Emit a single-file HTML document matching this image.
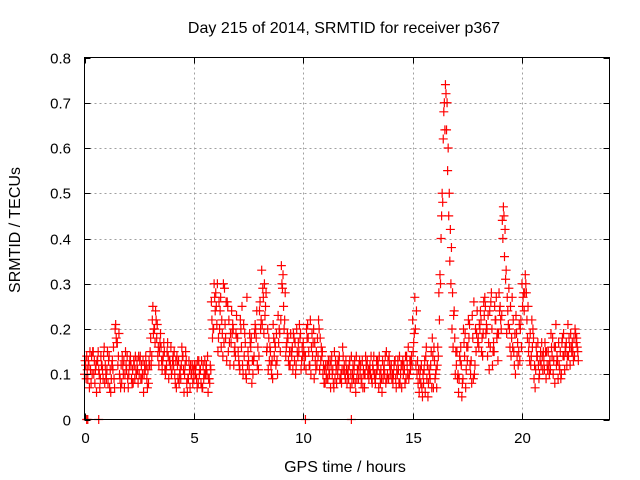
<!DOCTYPE html>
<html><head><meta charset="utf-8"><style>
html,body{margin:0;padding:0;background:#fff;}
svg{display:block;font-family:"Liberation Sans",sans-serif;}
</style></head><body>
<svg id="chart" width="640" height="480" viewBox="0 0 640 480">
<text x="344" y="33" font-size="16" text-anchor="middle" fill="#000">Day 215 of 2014, SRMTID for receiver p367</text>
<text transform="translate(20,230) rotate(-90)" font-size="16" text-anchor="middle" fill="#000">SRMTID / TECUs</text>
<text x="345" y="472" font-size="16" text-anchor="middle" fill="#000">GPS time / hours</text>
<g id="grid"></g>
<g id="marks"></g>
<rect x="84.5" y="57.5" width="525" height="362" fill="none" stroke="#000" stroke-width="1"/>
<g id="ticks"></g>
</svg>
<script>
const xTicks=[0,5,10,15,20];
const yTicks=[0,0.1,0.2,0.3,0.4,0.5,0.6,0.7,0.8];
const yTickLabels=["0","0.1","0.2","0.3","0.4","0.5","0.6","0.7","0.8"];
const seriesA=[
.10,.14,.12,.08,.15,.11,.13,.07,.12,.16,
.09,.13,.06,.11,.20,.17,.10,.08,.13,.12,
.07,.14,.11,.09,.13,.10,.12,.06,.14,.11,
.15,.22,.20,.18,.12,.16,.14,.10,.17,.13,
.11,.15,.07,.13,.09,.14,.12,.06,.11,.10,
.09,.12,.08,.11,.07,.13,.10,.09,.26,.20,
.28,.15,.24,.19,.29,.13,.22,.17,.20,.14,
.18,.11,.25,.14,.09,.13,.16,.10,.21,.12,
.24,.33,.19,.28,.11,.15,.09,.17,.13,.20,
.34,.25,.14,.18,.12,.16,.13,.20,.15,.11,
.17,.14,.21,.12,.19,.09,.15,.22,.13,.10,
.08,.12,.10,.14,.07,.11,.13,.09,.16,.10,
.08,.12,.14,.09,.06,.11,.10,.13,.07,.12,
.09,.14,.11,.08,.13,.10,.06,.12,.15,.09,
.11,.08,.13,.10,.14,.07,.12,.09,.16,.11,
.22,.27,.10,.06,.12,.08,.14,.05,.09,.18,
.13,.07,.28,.40,.62,.74,.55,.35,.20,.24,
.12,.06,.16,.09,.19,.13,.21,.08,.26,.15,
.18,.24,.14,.27,.20,.11,.28,.17,.22,.13,
.25,.44,.36,.19,.29,.14,.22,.10,.17,.13,
.30,.24,.28,.15,.12,.20,.07,.14,.10,.17,
.13,.09,.15,.11,.18,.08,.14,.12,.10,.19,
.15,.21,.12,.17,.14,.18];
const seriesB=[
.12,.09,.15,.10,.13,.06,.11,.14,.09,.12,
.15,.07,.12,.09,.18,.14,.07,.12,.10,.14,
.12,.09,.13,.11,.08,.14,.10,.12,.09,.13,
.12,.19,.24,.14,.17,.11,.15,.12,.09,.16,
.14,.08,.12,.10,.16,.06,.13,.09,.12,.08,
.11,.07,.10,.13,.09,.11,.06,.12,.18,.27,
.21,.26,.16,.30,.18,.25,.12,.19,.15,.23,
.13,.20,.10,.17,.12,.19,.08,.14,.18,.11,
.20,.29,.23,.16,.13,.10,.18,.12,.23,.15,
.29,.22,.17,.12,.15,.19,.10,.14,.18,.16,
.12,.20,.15,.10,.17,.13,.18,.11,.14,.08,
.10,.13,.07,.11,.09,.12,.14,.08,.11,.13,
.11,.07,.10,.13,.09,.12,.08,.11,.14,.10,
.12,.08,.10,.13,.07,.11,.09,.14,.10,.12,
.09,.12,.07,.11,.10,.13,.08,.12,.10,.14,
.17,.12,.08,.11,.05,.13,.09,.11,.15,.07,
.10,.16,.32,.50,.70,.64,.45,.30,.16,.10,
.09,.14,.05,.17,.11,.22,.10,.18,.12,.24,
.21,.15,.26,.19,.23,.16,.12,.25,.18,.28,
.20,.47,.31,.24,.16,.27,.12,.19,.15,.22,
.27,.32,.18,.13,.22,.09,.16,.12,.15,.11,
.17,.12,.10,.16,.13,.21,.09,.15,.18,.11,
.12,.18,.16,.13,.19,.15];
const seriesC=[
.13,.11,.07,.14,.10,.12,.15,.09,.11,.08,
.11,.14,.09,.16,.21,.12,.09,.14,.07,.11,
.10,.12,.08,.14,.11,.13,.09,.10,.12,.08,
.18,.25,.17,.21,.15,.13,.17,.11,.14,.12,
.13,.10,.14,.08,.12,.11,.15,.09,.07,.12,
.12,.09,.13,.08,.12,.10,.14,.08,.22,.30,
.25,.18,.27,.14,.21,.26,.17,.24,.12,.19,
.15,.22,.12,.19,.27,.11,.18,.13,.20,.16,
.26,.21,.30,.15,.18,.12,.21,.16,.10,.19,
.30,.20,.16,.13,.19,.11,.17,.15,.21,.13,
.15,.11,.18,.22,.14,.17,.12,.20,.16,.12,
.12,.09,.13,.10,.15,.08,.12,.10,.14,.09,
.10,.13,.08,.11,.14,.09,.12,.07,.10,.13,
.11,.09,.14,.10,.12,.08,.13,.10,.09,.14,
.12,.10,.09,.13,.08,.12,.11,.14,.09,.13,
.15,.20,.13,.09,.07,.11,.16,.08,.12,.14,
.09,.12,.22,.45,.68,.72,.60,.42,.28,.18,
.15,.09,.12,.20,.07,.16,.12,.23,.10,.19,
.16,.22,.19,.25,.14,.24,.20,.15,.27,.19,
.22,.40,.42,.27,.20,.18,.15,.23,.12,.20,
.25,.28,.22,.17,.14,.18,.11,.17,.13,.14,
.11,.15,.12,.19,.10,.16,.13,.11,.17,.14,
.17,.14,.19,.15,.20,.16];
const seriesD=[
.09,.13,.11,.15,.08,.13,.10,.12,.14,.10,
.08,.11,.13,.07,.17,.19,.12,.10,.15,.09,
.13,.08,.12,.10,.14,.09,.13,.11,.07,.12,
.14,.20,.22,.16,.19,.13,.11,.15,.13,.10,
.12,.13,.09,.11,.14,.10,.08,.13,.10,.11,
.10,.13,.11,.07,.10,.12,.09,.11,.20,.24,
.30,.20,.22,.17,.26,.15,.19,.21,.16,.18,
.12,.16,.21,.10,.15,.17,.13,.19,.24,.14,
.22,.27,.25,.20,.16,.13,.14,.19,.17,.22,
.32,.28,.19,.15,.14,.18,.12,.17,.19,.14,
.14,.18,.12,.16,.20,.11,.14,.18,.15,.11,
.09,.11,.12,.08,.13,.10,.09,.11,.12,.11,
.09,.10,.12,.08,.11,.13,.09,.10,.12,.11,
.10,.12,.09,.11,.14,.09,.11,.08,.13,.10,
.10,.13,.11,.08,.12,.10,.14,.10,.13,.12,
.19,.24,.11,.08,.10,.06,.12,.10,.07,.16,
.11,.14,.30,.48,.64,.70,.50,.38,.23,.15,
.10,.13,.08,.14,.16,.18,.13,.09,.20,.17,
.20,.18,.23,.21,.17,.26,.15,.22,.19,.24,
.23,.45,.33,.21,.25,.16,.19,.14,.21,.16,
.28,.30,.25,.19,.16,.12,.14,.09,.12,.15,
.15,.11,.13,.14,.16,.12,.17,.09,.14,.16,
.14,.16,.15,.18,.17,.13];
const zeroTimes=[0.1,0.15,0.65,10.1,12.2];
const timeStep=0.1;
const offA=0,offB=0.05,offC=0.025,offD=0.075;
const X0=84.5,X1=609.5,Y0=419.5,Y1=57.5,XMAX=24,YMAX=0.8;
function sx(v){return X0+(X1-X0)*v/XMAX;}
function sy(v){return Y0-(Y0-Y1)*v/YMAX;}
const NS="http://www.w3.org/2000/svg";
const grid=document.getElementById('grid'),ticks=document.getElementById('ticks'),marks=document.getElementById('marks');
function ln(p,x1,y1,x2,y2,st,dash){const l=document.createElementNS(NS,'line');l.setAttribute('x1',x1);l.setAttribute('y1',y1);l.setAttribute('x2',x2);l.setAttribute('y2',y2);l.setAttribute('stroke',st);if(dash)l.setAttribute('stroke-dasharray',dash);p.appendChild(l);return l;}
function tx(p,x,y,s,anchor){const t=document.createElementNS(NS,'text');t.setAttribute('x',x);t.setAttribute('y',y);t.setAttribute('font-size','15');t.setAttribute('text-anchor',anchor);t.textContent=s;p.appendChild(t);return t;}
xTicks.forEach(v=>{const x=Math.round(sx(v))+0.5;
 if(v>0){const g=ln(grid,x,Y0,x,Y1,'#a0a0a0','2,3');
 
 }
 ln(ticks,x,Y0,x,Y0-6,'#000');ln(ticks,x,Y1,x,Y1+6,'#000');
 const t=tx(ticks,x,443,String(v),'middle');
 
 });
yTicks.forEach((v,i)=>{const y=Math.round(sy(v))+0.5;
 if(v>0&&v<YMAX){const g=ln(grid,X0,y,X1,y,'#a0a0a0','2,3');
 
 }
 ln(ticks,X0,y,X0+6,y,'#000');ln(ticks,X1,y,X1-6,y,'#000');
 const t=tx(ticks,71,y+5,yTickLabels[i],'end');
 
 });
function plus(x,y,c){const p=document.createElementNS(NS,'path');const h=4.5;
 p.setAttribute('d',`M${x-h} ${y}H${x+h}M${x} ${y-h}V${y+h}`);p.setAttribute('stroke',c);p.setAttribute('stroke-width','1.2');p.setAttribute('fill','none');
 marks.appendChild(p);return p;}
seriesA.forEach((v,i)=>{const p=plus(sx(i*timeStep+offA),sy(v),'#ff0000');
 
 });
seriesB.forEach((v,i)=>{const p=plus(sx(i*timeStep+offB),sy(v),'#ff0000');
 
 });
seriesC.forEach((v,i)=>{const p=plus(sx(i*timeStep+offC),sy(v),'#ff0000');
 
 });
seriesD.forEach((v,i)=>{const p=plus(sx(i*timeStep+offD),sy(v),'#ff0000');
 
 });
zeroTimes.forEach(v=>{const p=plus(sx(v),sy(0),'#ff0000');
 
 });
</script>
</body></html>
